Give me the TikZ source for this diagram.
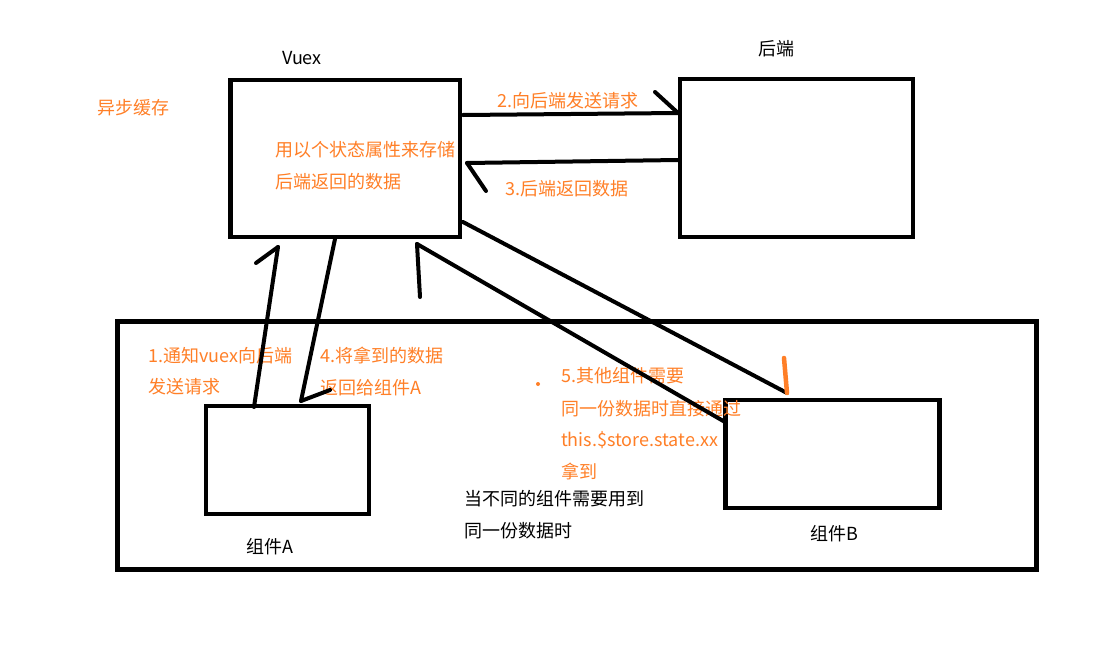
\documentclass[tikz,border=0pt]{standalone}
\usepackage{fontspec}
\setmainfont{Noto Sans CJK SC}
\definecolor{paintorange}{RGB}{255,127,39}
\tikzset{
  box/.style={draw=black, line width=4.6pt, inner sep=0pt},
  conn/.style={draw=black, line width=4pt, line cap=round},
  headorange/.style={draw=paintorange, line width=4.5pt, line cap=round},
  otext/.style={text=paintorange, font=\fontsize{18}{20}\selectfont, inner sep=0pt, anchor=west},
  btext/.style={text=black, font=\fontsize{18}{20}\selectfont, inner sep=0pt, anchor=west},
  ctext/.style={text=black, font=\fontsize{18}{20}\selectfont, inner sep=0pt},
}
\begin{document}
\begin{tikzpicture}[x=1pt,y=-1pt]
\useasboundingbox (0,0) rectangle (1114,648);
\fill[white] (0,0) rectangle (1114,648);

% boxes
\node[box, minimum width=229.5pt, minimum height=157pt] (vuex) at (345.25,158.5) {};
\node[box, minimum width=233pt, minimum height=158pt] (backend) at (796.5,158) {};
\node[box, minimum width=919pt, minimum height=248pt] (outer) at (577,445.5) {};
\node[box, minimum width=163pt, minimum height=108pt] (compA) at (287.5,460) {};
\node[box, minimum width=214pt, minimum height=108pt] (compB) at (832.75,454) {};

% titles
\node[ctext] (vuextitle) at (302,58) {Vuex};
\node[ctext] (backendtitle) at (776,49) {后端};
\node[ctext] (compAlabel) at (270,547) {组件A};
\node[ctext] (compBlabel) at (834,534) {组件B};

% texts
\node[otext] (async) at (97,108) {异步缓存};
\node[otext] (store1) at (275,150) {用以个状态属性来存储};
\node[otext] (store2) at (275,182) {后端返回的数据};
\node[otext] (step2) at (497,101) {2.向后端发送请求};
\node[otext] (step3) at (505,189) {3.后端返回数据};
\node[otext] (step1a) at (148,356) {1.通知vuex向后端};
\node[otext] (step1b) at (148,387) {发送请求};
\node[otext] (step4a) at (320,356) {4.将拿到的数据};
\node[otext] (step4b) at (320,388) {返回给组件A};
\node[otext] (step5a) at (561,376) {5.其他组件需要};
\node[otext] (step5b) at (561,409) {同一份数据时直接通过};
\node[otext] (step5c) at (561,440) {this.\$store.state.xx};
\node[otext] (step5d) at (561,471) {拿到};
\node[btext] (note1) at (464,499) {当不同的组件需要用到};
\node[btext] (note2) at (464,531) {同一份数据时};
\fill[paintorange] (538,384) circle (2pt);

% endpoint coordinates
\coordinate (r2s) at (463,115);
\coordinate (r2e) at (678,113);
\coordinate (r2h) at (655,92);
\coordinate (r3s) at (678,160);
\coordinate (r3e) at (467,163);
\coordinate (r3h) at (486,191);
\coordinate (r1s) at (254,407);
\coordinate (r1e) at (278,247);
\coordinate (r1h) at (256,263);
\coordinate (r4s) at (335,239);
\coordinate (r4e) at (301,401);
\coordinate (r4h) at (330,390);
\coordinate (r5s) at (725,422);
\coordinate (r5e) at (417,244);
\coordinate (r5h) at (420,297);
\coordinate (r6s) at (463,222);
\coordinate (r6e) at (787,393);
\coordinate (r6h) at (784,358);

% connectors
\draw[conn] (r2s) -- (r2e);
\draw[conn] (r2h) -- (r2e);
\draw[conn] (r3s) -- (r3e);
\draw[conn] (r3h) -- (r3e);
\draw[conn] (r1s) -- (r1e);
\draw[conn] (r1h) -- (r1e);
\draw[conn] (r4s) -- (r4e);
\draw[conn] (r4h) -- (r4e);
\draw[conn] (r5s) -- (r5e);
\draw[conn] (r5h) -- (r5e);
\draw[conn] (r6s) -- (r6e);
\draw[headorange] (r6h) -- (r6e);
\end{tikzpicture}
\end{document}
